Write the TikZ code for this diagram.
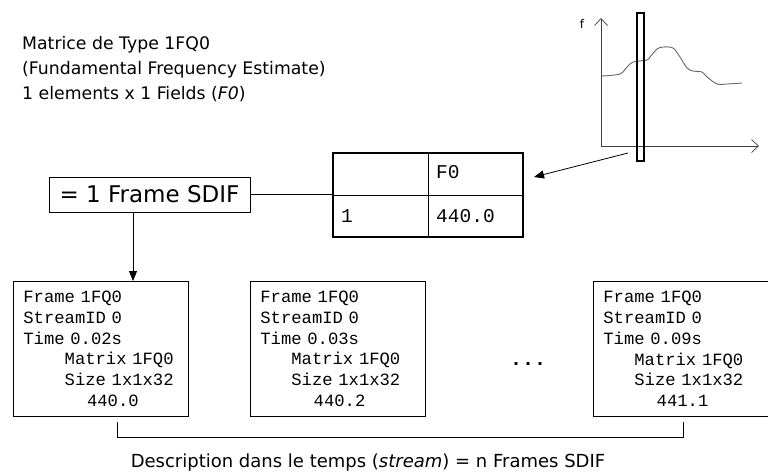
\documentclass[tikz,border=0pt]{standalone}
\usepackage{fontspec}
\setmainfont{DejaVu Sans}
\setmonofont{Liberation Mono}
\usetikzlibrary{arrows.meta}
\newcommand{\framefont}{\fontsize{17.2}{20.7}\selectfont\ttfamily\fontdimen2\font=0.6em\fontdimen3\font=0pt\fontdimen4\font=0pt}
\pgfdeclarelayer{edgelayer}
\pgfdeclarelayer{nodelayer}
\pgfsetlayers{edgelayer,nodelayer,main}
\tikzstyle{edge}=[draw=black, line width=0.8pt]
\tikzstyle{arrowedge}=[draw=black, line width=0.8pt, -{Triangle[length=10pt,width=8pt]}]
\tikzstyle{axis}=[draw=black!75, line width=0.7pt, -{Straight Barb[length=7pt,width=13pt]}]
\tikzstyle{label}=[inner sep=0pt, anchor=base west, font=\fontsize{17.3}{20}\selectfont]
\tikzstyle{framebox}=[rectangle, draw=black, line width=0.8pt, anchor=north west, minimum width=175pt, minimum height=135pt, text width=155pt, inner xsep=10pt, align=left, font=\framefont]
\tikzstyle{cell}=[inner sep=0pt, anchor=west, font=\fontsize{19.5}{20}\selectfont\ttfamily]

\begin{document}
\begin{tikzpicture}[x=1pt, y=-1pt]
					\useasboundingbox (0,0) rectangle (768,472);
					\begin{pgfonlayer}{nodelayer}
						\node [style=label] (1) at (22,49) {Matrice de Type 1FQ0};
						\node [style=label] (2) at (22,74) {(Fundamental Frequency Estimate)};
						\node [style=label] (3) at (22,99) {1 elements x 1 Fields (\textit{F0})};
						\node [rectangle, draw=black, line width=0.8pt, minimum width=201pt, minimum height=35pt, inner sep=0pt, font=\fontsize{23}{24}\selectfont] (4) at (149.5,194.5) {= 1 Frame SDIF};
						\node [rectangle, draw=black, line width=2.5pt, minimum width=190pt, minimum height=84pt] (5) at (428,195) {};
						\node [style=cell] (51) at (436,172) {F0};
						\node [style=cell] (52) at (341,216) {1};
						\node [style=cell] (53) at (436,216) {440.0};
						\node [style=framebox] (6) at (13,281) {Frame 1FQ0\\StreamID 0\\Time 0.02s\\\hspace*{2.4em}Matrix 1FQ0\\\hspace*{2.4em}Size 1x1x32\\\hspace*{3.7em}440.0};
						\node [style=framebox] (7) at (250,281) {Frame 1FQ0\\StreamID 0\\Time 0.03s\\\hspace*{1.8em}Matrix 1FQ0\\\hspace*{1.8em}Size 1x1x32\\\hspace*{3.1em}440.2};
						\node [inner sep=0pt, font=\fontsize{20}{20}\selectfont\ttfamily\bfseries] (8) at (528,364) {...};
						\node [style=framebox] (9) at (593,281) {Frame 1FQ0\\StreamID 0\\Time 0.09s\\\hspace*{1.8em}Matrix 1FQ0\\\hspace*{1.8em}Size 1x1x32\\\hspace*{3.1em}441.1};
						\node [rectangle, draw=black, line width=1.5pt, minimum width=7pt, minimum height=148pt, inner sep=0pt] (10) at (640.5,87) {};
						\node [inner sep=0pt, font=\fontsize{12}{14}\selectfont] (11) at (582,24) {f};
						\node [inner sep=0pt, font=\fontsize{18}{20}\selectfont] (20) at (368,463) {Description dans le temps (\textit{stream}) = n Frames SDIF};
					\end{pgfonlayer}
					\coordinate (o) at (601,146);
					\coordinate (yt) at (601,18);
					\coordinate (xe) at (759,146);
					\coordinate (a) at (133,281);
					\coordinate (p) at (628,153);
					\coordinate (q) at (534,177);
					\coordinate (b1) at (117,422);
					\coordinate (b2) at (683,422);
					\begin{pgfonlayer}{edgelayer}
						\draw [style=axis] (o) to (yt);
						\draw [style=axis] (o) to (xe);
						\draw [gray!80!black, line width=0.9pt] plot [smooth, tension=0.5] coordinates {(602,76) (620,74) (627,67) (633,62) (647,60) (650,57) (657,49) (663,47) (673,48) (680,57) (687,68) (693,71) (702,72) (707,77) (717,84) (727,84) (742,83)};
						\draw [style=edge] (4.east) to (4.east -| 5.west);
						\draw [style=edge, line width=0.7pt] (5.north) to (5.south);
						\draw [style=edge, line width=0.7pt] (5.west) to (5.east);
						\draw [style=arrowedge] (p) to (q);
						\draw [style=arrowedge] (4.south -| a) to (a);
						\draw [style=edge] (b1) -- ++(0,15) -| (b2);
					\end{pgfonlayer}
				\end{tikzpicture}
\end{document}
